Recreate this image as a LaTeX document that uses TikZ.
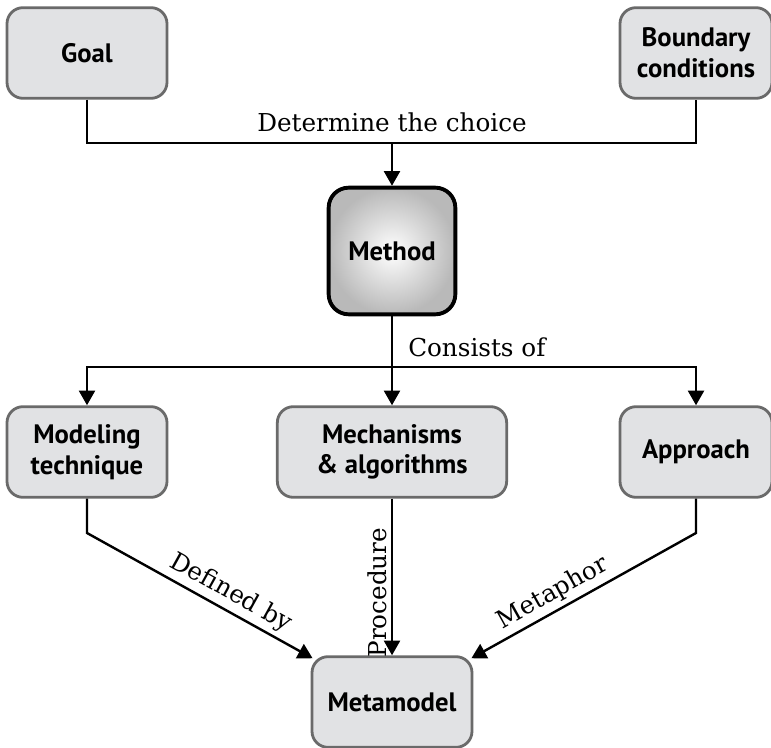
\documentclass[tikz,border=0pt]{standalone}
\usepackage{fontspec}
\setmainfont{DejaVu Serif}
\newfontfamily\blockfont{PT Sans}
\usetikzlibrary{arrows.meta,calc,positioning}
\definecolor{blockgray}{HTML}{E1E2E4}
\definecolor{rimgray}{HTML}{6A6A6A}
\tikzset{
  block/.style={draw=rimgray, line width=2.1pt, fill=blockgray, rounded corners=12pt,
    align=center, inner sep=0pt, minimum height=68pt,
    font=\blockfont\bfseries\fontsize{20}{23}\selectfont},
  mainblock/.style={block, draw=black, line width=2.9pt, inner color=white,
    outer color=gray!55, rounded corners=15pt},
  bus/.style={line width=1.8pt},
  feed/.style={bus, -{Triangle[length=11pt,width=12pt]}},
  tag/.style={font=\fontsize{18.5}{22}\selectfont, inner sep=3pt},
}

\begin{document}
\begin{tikzpicture}[x=0.75pt,y=-0.75pt]
  \useasboundingbox (0,0) rectangle (771,748);
  % boxes
  \node[block, minimum width=120pt] (goal) at (87,53) {Goal};
  \node[block, minimum width=114pt] (bound) at (696,53) {Boundary\\conditions};
  \node[mainblock, minimum width=95pt, minimum height=95pt] (method) at (392,251) {Method};
  \node[block, minimum width=120pt] (model) at (87,452) {Modeling\\technique};
  \node[block, minimum width=172pt] (mech) at (392,452) {Mechanisms\\\& algorithms};
  \node[block, minimum width=114pt] (approach) at (696,452) {Approach};
  \node[block, minimum width=120pt] (meta) at (392,702) {Metamodel};
  % joints
  \coordinate (choice) at (392,143);
  \coordinate (split) at (392,367);
  \coordinate (bendl) at (87,533);
  \coordinate (bendr) at (696,533);
  % connectors
  \draw[bus] (goal.south) |- (choice) -| (bound.south);
  \draw[feed] (choice) -- (method.north);
  \node[tag, anchor=base] (choicetag) at (392,132) {Determine the choice};
  \draw[bus] (method.south) -- (split);
  \draw[feed] (split) -| (model.north);
  \draw[feed] (split) -| (approach.north);
  \draw[feed] (split) -- (mech.north);
  \node[tag, anchor=base west] (consisttag) at (404,357) {Consists of};
  \draw[feed] (model.south) -- (bendl) -- ([shift={(2,3)}]meta.north west)
    node[tag, pos=0.6, sloped, above] (definetag) {Defined by};
  \draw[feed] (mech.south) -- (meta.north)
    node[tag, pos=0.6, rotate=90, anchor=south] (proctag) {Procedure};
  \draw[feed] (approach.south) -- (bendr) -- ([shift={(-2,3)}]meta.north east)
    node[tag, pos=0.6, sloped, above] (metaphortag) {Metaphor};
\end{tikzpicture}
\end{document}
